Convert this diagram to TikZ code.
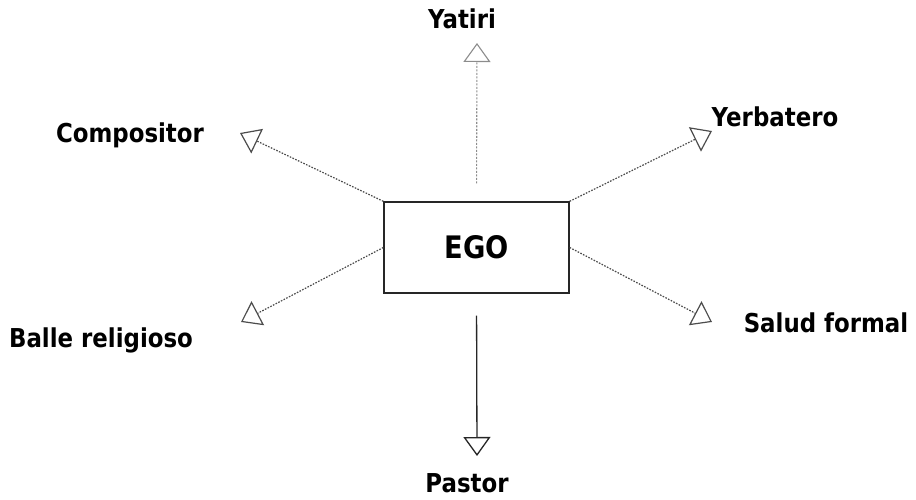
\documentclass[tikz,border=0pt]{standalone}
\usepackage{fontspec}
\setmainfont{DejaVu Sans}[FakeStretch=0.88]
\usetikzlibrary{arrows.meta}
\begin{document}
\begin{tikzpicture}[x=1pt,y=-1pt,
  lbl/.style={anchor=base, font=\fontsize{26}{30}\selectfont\bfseries, inner sep=0pt},
  egobox/.style={draw=black!85, line width=1.4pt, minimum width=185pt, minimum height=91pt, inner sep=0pt, font=\fontsize{31}{36}\selectfont\bfseries},
  tip/.style={-{Triangle[open, length=19pt, width=27pt]}},
  dotline/.style={tip, draw=black!70, line width=1.2pt, dash pattern=on 1.6pt off 1.4pt},
  lightline/.style={tip, draw=black!45, line width=1.1pt, dash pattern=on 2pt off 1.5pt},
  solidline/.style={tip, draw=black!85, line width=1.3pt}]
\path[use as bounding box] (0,0) rectangle (916,500);
\node[egobox] (ego) at (476.5,247.5) {EGO};
% arrow tips
\coordinate (tYat) at (477,43);
\coordinate (tPas) at (477,456);
\coordinate (tCom) at (240,133);
\coordinate (tBal) at (241,322);
\coordinate (tYer) at (712,131);
\coordinate (tSal) at (712,322);
% labels
\node[lbl] (yatiri) at (462,29) {Yatiri};
\node[lbl] (pastor) at (467,492) {Pastor};
\node[lbl] (compositor) at (130,143) {Compositor};
\node[lbl] (balle) at (101,347) {Balle religioso};
\node[lbl] (yerbatero) at (775,127) {Yerbatero};
\node[lbl] (salud) at (826,332) {Salud formal};
% connectors
\draw[lightline, shorten <=18pt] (ego.north) -- (tYat);
\draw[solidline, shorten <=22pt] (ego.south) -- (tPas);
\draw[dotline] (ego.north west) -- (tCom);
\draw[dotline] (ego.west) -- (tBal);
\draw[dotline] (ego.north east) -- (tYer);
\draw[dotline] (ego.east) -- (tSal);
\end{tikzpicture}
\end{document}
